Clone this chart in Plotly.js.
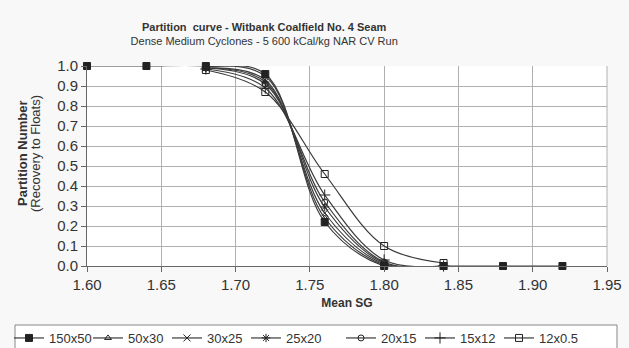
<!DOCTYPE html>
<html><head><meta charset="utf-8">
<script src="https://cdn.plot.ly/plotly-3.0.1.min.js"></script>
<style>html,body{margin:0;padding:0;background:#f8f8f8;}#chart{width:629px;height:348px;}</style>
</head><body><div id="chart"></div>
<script>
const seriesNames = ["150x50","50x30","30x25","25x20","20x15","15x12","12x0.5"];
const sgLong = [1.60,1.64,1.68,1.72,1.76,1.80,1.84,1.88,1.92];
const sgShort = [1.68,1.72,1.76,1.80,1.84];
const p150x50 = [1.0,1.0,1.0,0.96,0.22,0.0,0.0,0.0,0.0];
const p50x30 = [0.995,0.95,0.24,0.005,0.0];
const p30x25 = [0.99,0.93,0.265,0.01,0.0];
const p25x20 = [0.99,0.92,0.295,0.015,0.0];
const p20x15 = [0.99,0.91,0.32,0.02,0.0];
const p15x12 = [0.985,0.89,0.355,0.03,0.0];
const p12x05 = [0.98,0.87,0.46,0.10,0.015];

const xs = [sgLong, sgShort, sgShort, sgShort, sgShort, sgShort, sgShort];
const ys = [p150x50, p50x30, p30x25, p25x20, p20x15, p15x12, p12x05];
const symbols = ["square","triangle-up-open","x-thin-open","asterisk-open","circle-open","cross-thin-open","square-open"];
const sizes = [7,6,7,7,6,8,7];
const traces = [];
for (let i = seriesNames.length - 1; i >= 0; i--) {
  traces.push({
    x: xs[i], y: ys[i], name: seriesNames[i], type: 'scatter', mode: 'lines+markers',
    cliponaxis: false,
    legend: i < 4 ? 'legend' : 'legend2',
    line: {shape: 'spline', smoothing: 1, color: '#3a3a3a', width: 1.2},
    marker: {symbol: symbols[i], size: sizes[i], color: '#222', line: {color: '#222', width: 1}},
    legendrank: i + 1
  });
}
const legendBase = {orientation: 'h', xref: 'container', yref: 'container', xanchor: 'left',
    y: 1 - 323/348, yanchor: 'top', bgcolor: 'rgba(0,0,0,0)', borderwidth: 0,
    font: {size: 13, color: '#333'}, entrywidth: 34, itemwidth: 30, traceorder: 'normal'};
const layout = {
  width: 629, height: 348,
  paper_bgcolor: '#f8f8f8', plot_bgcolor: '#ffffff',
  margin: {l: 87, r: 22, t: 66, b: 82},
  font: {family: 'Liberation Sans, Arial, sans-serif', color: '#333'},
  title: {text: '<b>Partition  curve - Witbank Coalfield No. 4 Seam</b><br><span style="font-size:11px">Dense Medium Cyclones - 5 600 kCal/kg NAR CV Run</span>',
    font: {size: 11, color: '#333'}, x: 0.42, xanchor: 'center', y: 0.911, yanchor: 'middle'},
  xaxis: {range: [1.60, 1.95], dtick: 0.05, tick0: 1.6, tickformat: '.2f',
    showgrid: true, gridcolor: '#b0b0b0', gridwidth: 1, zeroline: false,
    showline: true, linecolor: '#666', ticks: 'outside', ticklen: 5, tickcolor: '#666',
    tickfont: {size: 15, color: '#333'},
    title: {text: '<b>Mean SG</b>', font: {size: 12, color: '#333'}, standoff: 6}},
  yaxis: {range: [0, 1.0], dtick: 0.1, tickformat: '.1f',
    showgrid: true, gridcolor: '#b0b0b0', gridwidth: 1, zeroline: false,
    showline: true, linecolor: '#666', ticks: 'outside', ticklen: 5, tickcolor: '#666',
    tickfont: {size: 15, color: '#333'}},
  annotations: [
    {text: '<b>Partition Number</b>', xref: 'paper', yref: 'paper', x: -0.125, y: 0.56, textangle: -90,
     showarrow: false, xanchor: 'center', yanchor: 'middle', font: {size: 13, color: '#333'}},
    {text: '(Recovery to Floats)', xref: 'paper', yref: 'paper', x: -0.1, y: 0.56, textangle: -90,
     showarrow: false, xanchor: 'center', yanchor: 'middle', font: {size: 13, color: '#333'}}
  ],
  showlegend: true,
  legend: Object.assign({}, legendBase, {x: 9/629}),
  legend2: Object.assign({}, legendBase, {x: 341/629}),
  shapes: [
    {type: 'line', xref: 'paper', yref: 'paper', x0: 1, x1: 1, y0: 0, y1: 1, line: {color: '#b0b0b0', width: 1}},
    {type: 'rect', xref: 'paper', yref: 'paper', x0: (15-87)/520, x1: (617-87)/520, y0: (266-325)/200, y1: (266-352)/200,
     fillcolor: '#ffffff', line: {color: '#888', width: 1}, layer: 'below'}
  ]
};
Plotly.newPlot('chart', traces, layout, {displayModeBar: false, staticPlot: true});
</script></body></html>
